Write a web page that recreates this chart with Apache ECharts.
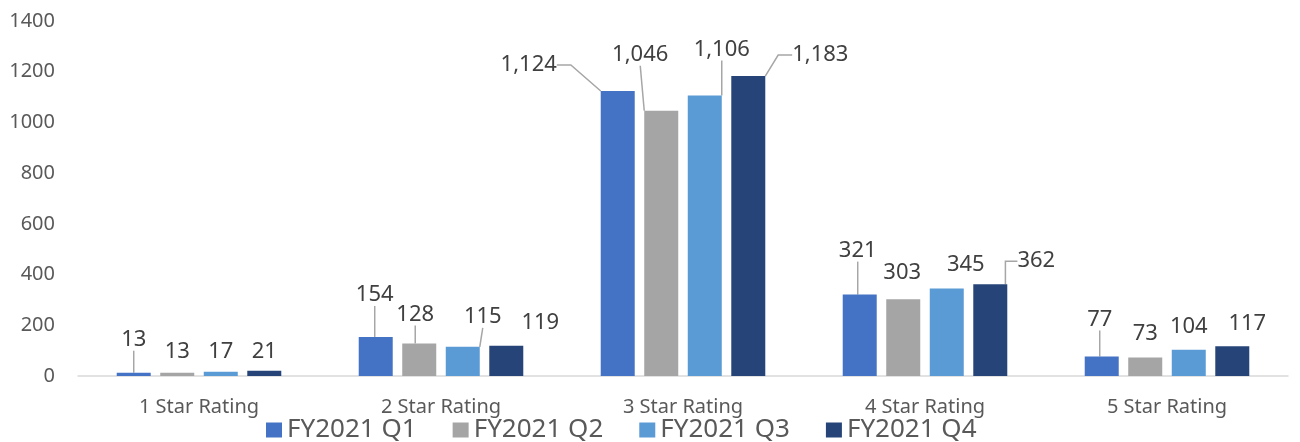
<!DOCTYPE html>
<html>
<head>
<meta charset="utf-8">
<script src="https://cdn.jsdelivr.net/npm/echarts@6/dist/echarts.min.js"></script>
<style>
  html, body { margin: 0; padding: 0; background: #fff; }
  #chart { width: 1300px; height: 442px; }
</style>
</head>
<body>
<div id="chart"></div>
<script>
// categories and quarters
const categories = ['1 Star Rating', '2 Star Rating', '3 Star Rating', '4 Star Rating', '5 Star Rating'];
const quarters = ['FY2021 Q1', 'FY2021 Q2', 'FY2021 Q3', 'FY2021 Q4'];

// values per quarter
const q1 = [13, 154, 1124, 321, 77];
const q2 = [13, 128, 1046, 303, 73];
const q3 = [17, 115, 1106, 345, 104];
const q4 = [21, 119, 1183, 362, 117];

const colors = ['#4472C4', '#A5A5A5', '#5B9BD5', '#264478'];

// label shifts (dx, dy) like the excel callouts
const shiftQ1 = [[0, -14], [-1, -23], [-89, -7], [-2, -25], [-2, -18]];
const shiftQ2 = [[0, -2], [-4, -10], [-21, -37], [-1, -7], [0, -5]];
const shiftQ3 = [[0, -1], [20, -11], [17, -27], [19, -5], [0, -4]];
const shiftQ4 = [[0, 0], [34, -4], [72, -2], [46, -4], [15, -4]];

// which labels get a leader line, and its horizontal tail
const leaderQ1 = [0, 0, 14, 0, 0];
const leaderQ2 = [null, 0, 0, null, null];
const leaderQ3 = [null, 0, 0, null, null];
const leaderQ4 = [null, null, 14, 12, null];

const FONT = 'Noto Sans';

function makeSeries(name, values, shifts, leaders) {
  return {
    name: name,
    type: 'bar',
    barWidth: 34,
    barGap: '28%',
    data: values.map(function (v, i) {
      const item = { value: v };
      if (leaders[i] !== null) {
        item.labelLine = { show: true, length2: leaders[i] };
      }
      return item;
    }),
    label: {
      show: true,
      position: 'top',
      distance: 5,
      padding: [3, 7],
      color: '#404040',
      fontFamily: FONT,
      fontSize: 22,
      formatter: function (p) {
        return p.value.toLocaleString('en-US');
      }
    },
    labelLine: {
      show: false,
      lineStyle: { color: '#A6A6A6', width: 1.5 }
    },
    labelLayout: function (p) {
      const s = shifts[p.dataIndex];
      return { dx: s[0], dy: s[1] };
    }
  };
}

const chart = echarts.init(document.getElementById('chart'));
const option = {
  animation: false,
  color: colors,
  textStyle: { fontFamily: FONT },
  grid: { left: 78, right: 12, top: 21, bottom: 66, containLabel: false },
  legend: {
    data: quarters,
    left: 266,
    top: 417,
    padding: 0,
    icon: 'rect',
    itemWidth: 16,
    itemHeight: 15,
    itemGap: 36,
    textStyle: { color: '#595959', fontSize: 26, fontFamily: FONT, lineHeight: 26 }
  },
  xAxis: {
    type: 'category',
    data: categories,
    axisLine: { lineStyle: { color: '#D9D9D9', width: 1.5 } },
    axisTick: { show: false },
    axisLabel: { color: '#595959', fontSize: 20, fontFamily: FONT, margin: 21 }
  },
  yAxis: {
    type: 'value',
    min: 0,
    max: 1400,
    interval: 200,
    axisLine: { show: false },
    axisTick: { show: false },
    splitLine: { show: false },
    axisLabel: {
      color: '#595959', fontSize: 20, fontFamily: FONT, margin: 23,
      formatter: function (v) { return String(v); }
    }
  },
  series: [
    makeSeries(quarters[0], q1, shiftQ1, leaderQ1),
    makeSeries(quarters[1], q2, shiftQ2, leaderQ2),
    makeSeries(quarters[2], q3, shiftQ3, leaderQ3),
    makeSeries(quarters[3], q4, shiftQ4, leaderQ4)
  ]
};
chart.setOption(option);
</script>
</body>
</html>
